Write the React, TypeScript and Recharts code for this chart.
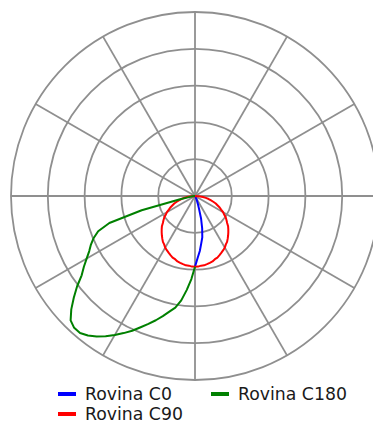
import { Legend, PolarAngleAxis, PolarGrid, PolarRadiusAxis, Radar, RadarChart } from 'recharts'

// intensity (cd/klm) per gamma angle from nadir, 0..90 step 2.5
const GAMMA = [
  0, 2.5, 5, 7.5, 10, 12.5, 15, 17.5, 20, 22.5, 25, 27.5, 30, 32.5, 35, 37.5, 40, 42.5, 45, 47.5, 50, 52.5, 55,
  57.5, 60, 62.5, 65, 67.5, 70, 72.5, 75, 77.5, 80, 82.5, 85, 87.5, 90,
]
const C0 = [96, 84, 75, 65, 57, 45, 32, 18, 11, 7, 4, 2, 0, 0, 0, 0, 0, 0, 0, 0, 0, 0, 0, 0, 0, 0, 0, 0, 0, 0, 0, 0, 0, 0, 0, 0, 0]
const C90 = [
  96, 96, 95, 95, 94, 93, 92, 90, 89, 87, 85, 83, 81, 78, 76, 73, 70, 67, 64, 61, 57, 54, 51, 47, 44, 40, 37, 33, 30,
  26, 22, 19, 15, 11, 7, 4, 0,
]
const C180 = [
  96, 113, 128, 143, 154, 161, 169, 177, 185, 193, 202, 210, 218, 226, 233, 239, 243, 243, 239, 228, 215, 202, 188,
  179, 170, 162, 156, 149, 140, 122, 75, 22, 7, 3, 1, 0, 0,
]

const SERIES = [
  { key: 'c0', name: 'Rovina C0', color: '#0000ff' },
  { key: 'c90', name: 'Rovina C90', color: '#ff0000' },
  { key: 'c180', name: 'Rovina C180', color: '#008000' },
]

const RING_VALUES = [50, 100, 150, 200, 250]
const SPOKES = [0, 30, 60, 90, 120, 150, 180, 210, 240, 270, 300, 330]

const W = 373
const H = 417
const CX = 187
const CY = 188
const R = 184
const MAX = 250

type Row = { theta: number; c0: number | null; c90: number | null; c180: number | null }

// categories run clockwise from the zenith; right half = C0, left half = C180
function buildRows(): Row[] {
  const n = GAMMA.length - 1
  const step = GAMMA[1] - GAMMA[0]
  const rows: Row[] = []
  for (let i = 0; i < n * 4; i++) {
    const row: Row = { theta: i * step, c0: null, c90: null, c180: null }
    if (i >= n && i <= n * 2) {
      const j = n * 2 - i
      row.c0 = C0[j]
      row.c90 = C90[j]
    }
    if (i >= n * 2 && i <= n * 3) {
      const j = i - n * 2
      row.c180 = C180[j]
      row.c90 = C90[j]
    }
    rows.push(row)
  }
  return rows
}

const data = buildRows()

// radar points come from the library's scales; draw them as an open curve, skipping empty angles
function OpenCurve(props: any) {
  const pts = (props.points ?? []).filter((p: any) => p.payload?.[props.dataKey] != null)
  const d = pts.map((p: any, k: number) => `${k ? 'L' : 'M'}${p.x},${p.y}`).join('')
  return <path d={d} fill="none" stroke={props.stroke} strokeWidth={props.strokeWidth} strokeLinejoin="round" />
}

function LegendBox() {
  const item = (name: string, color: string, left: number, top: number) => (
    <div key={name} style={{ position: 'absolute', left, top, display: 'flex', alignItems: 'center' }}>
      <span style={{ display: 'inline-block', width: 18, height: 4, background: color, marginRight: 9 }} />
      <span style={{ fontSize: 17.3, color: '#1a1a1a', lineHeight: '20px' }}>{name}</span>
    </div>
  )
  return (
    <div style={{ position: 'relative', width: W, height: 44, fontFamily: 'Tahoma, "DejaVu Sans", sans-serif' }}>
      {item(SERIES[0].name, SERIES[0].color, 50, 4)}
      {item(SERIES[2].name, SERIES[2].color, 203, 4)}
      {item(SERIES[1].name, SERIES[1].color, 50, 24)}
    </div>
  )
}

export default function App() {
  return (
    <div style={{ width: W, height: H }}>
      <RadarChart
        width={W}
        height={H}
        data={data}
        cx={CX}
        cy={CY}
        outerRadius={R}
        startAngle={90}
        endAngle={-270}
        margin={{ top: 0, right: 0, bottom: 0, left: 0 }}
      >
        <PolarGrid
          gridType="circle"
          stroke="#8f8f8f"
          strokeWidth={1.8}
          strokeOpacity={1}
          polarAngles={SPOKES}
          polarRadius={RING_VALUES.map((v) => (v / MAX) * R)}
        />
        <PolarAngleAxis dataKey="theta" tick={false} tickLine={false} axisLine={false} />
        <PolarRadiusAxis domain={[0, MAX]} ticks={RING_VALUES} tick={false} axisLine={false} tickLine={false} />
        {SERIES.map((s) => (
          <Radar
            key={s.key}
            dataKey={s.key}
            name={s.name}
            stroke={s.color}
            strokeWidth={2}
            fill="none"
            dot={false}
            shape={OpenCurve}
            isAnimationActive={false}
          />
        ))}
        <Legend content={<LegendBox />} wrapperStyle={{ left: 0, top: 372, width: W }} />
      </RadarChart>
    </div>
  )
}
